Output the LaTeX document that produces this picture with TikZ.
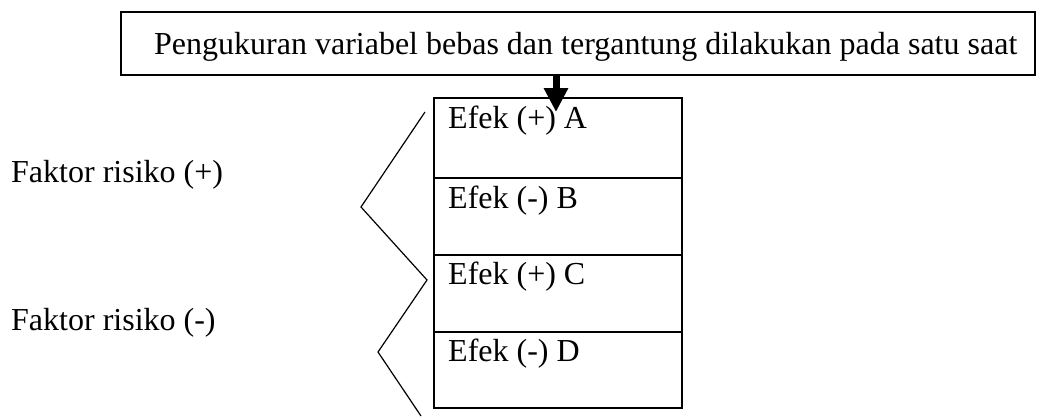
\documentclass[tikz,border=0pt]{standalone}
\usepackage{fontspec}
\setmainfont{Liberation Serif}
\usetikzlibrary{arrows.meta,calc}
\begin{document}
\begin{tikzpicture}[x=1pt,y=-1pt,
  txt/.style={inner sep=0pt,anchor=base west,font=\fontsize{32}{38}\selectfont},
  topbox/.style={draw,line width=2pt,rectangle,inner sep=0pt},
  cellbox/.style={draw,line width=2pt,rectangle,inner sep=0pt,minimum width=248pt},
  zig/.style={line width=1.2pt,line join=miter},
  bigarrow/.style={line width=7pt,-{Triangle[width=23pt,length=24pt]}}]
\useasboundingbox (0,0) rectangle (1037,416);
% top box
\node[topbox,minimum width=914pt,minimum height=63pt] (top) at (578,43.5) {};
\node[txt] (title) at (154,54) {Pengukuran variabel bebas dan tergantung dilakukan pada satu saat};
% cells
\node[cellbox,minimum height=80pt] (cA) at (558,138) {};
\node[cellbox,minimum height=77pt] (cB) at (558,216.5) {};
\node[cellbox,minimum height=77pt] (cC) at (558,293.5) {};
\node[cellbox,minimum height=76pt] (cD) at (558,370) {};
\node[txt] (tA) at (448,128) {Efek (+) A};
\node[txt] (tB) at (448,208) {Efek (-) B};
\node[txt] (tC) at (448,284) {Efek (+) C};
\node[txt] (tD) at (448,361) {Efek (-) D};
% arrow
\coordinate (tip) at (556,112);
\draw[bigarrow] (top.south -| tip) -- (tip);
% factor labels
\node[txt] (f1) at (11,182) {Faktor risiko (+)};
\node[txt] (f2) at (11,330) {Faktor risiko (-)};
% zigzag brackets
\coordinate (z1) at (425,112);
\coordinate (z2) at (361,207);
\coordinate (z3) at (427,280);
\coordinate (z4) at (378,352);
\coordinate (z5) at (421,416);
\draw[zig] (z1) -- (z2) -- (z3) -- (z4) -- (z5);
\end{tikzpicture}
\end{document}
